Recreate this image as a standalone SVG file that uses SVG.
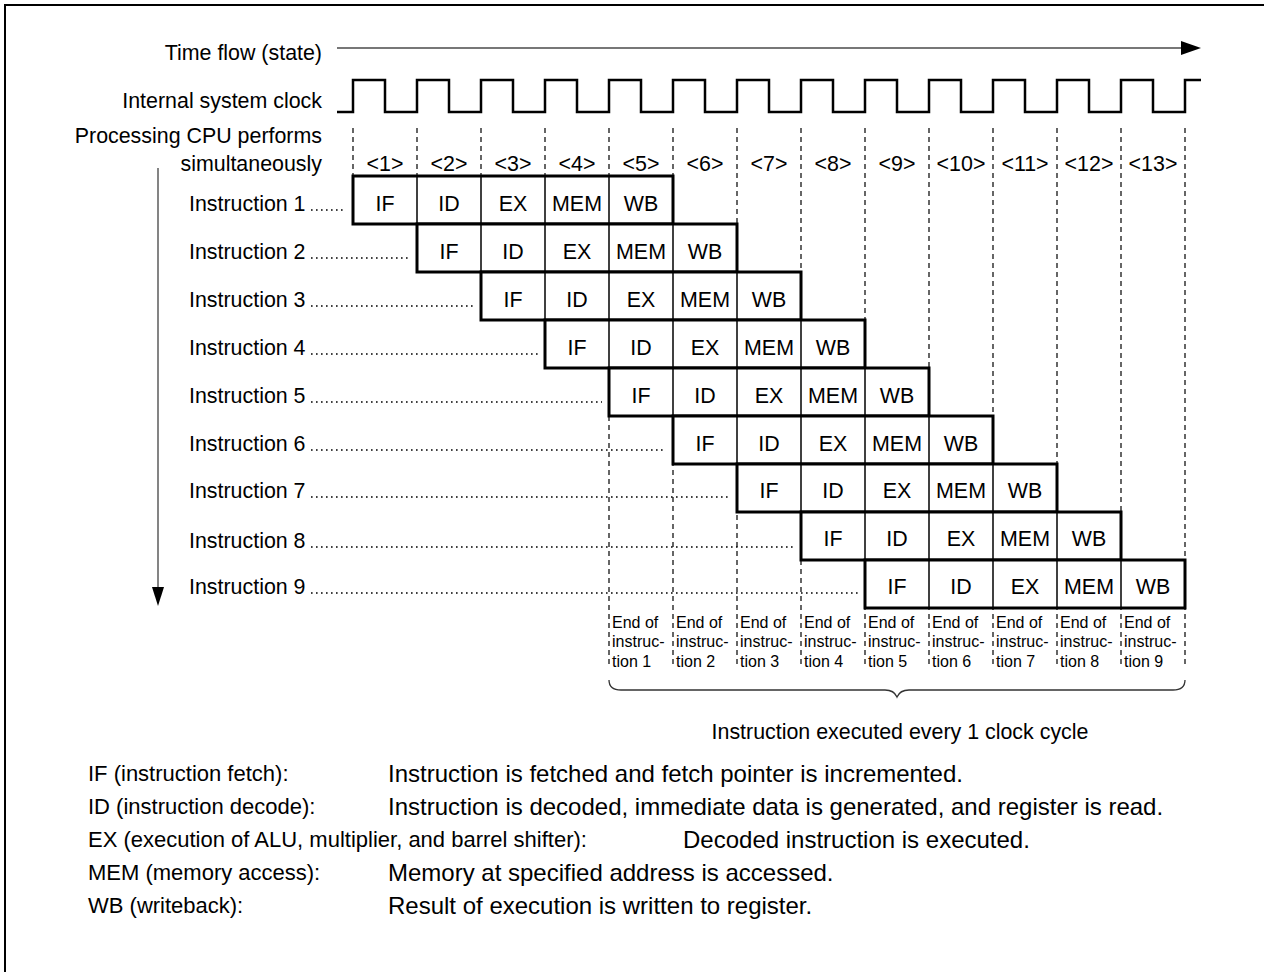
<svg xmlns="http://www.w3.org/2000/svg" width="1264" height="972" viewBox="0 0 1264 972">
<style>
text{font-family:"Liberation Sans",Arial,sans-serif;fill:#000}
.t{font-size:21.4px}
.c{font-size:21.4px;text-anchor:middle}
.r{font-size:21.4px;text-anchor:end}
.l{font-size:22px}
.d{font-size:24px}
.s{font-size:16px}
.box{fill:#fff;stroke:#000;stroke-width:3}
.div{stroke:#000;stroke-width:1.5}
.dash{stroke:#000;stroke-width:1.2;stroke-dasharray:5 4;fill:none}
.dot{stroke:#000;stroke-width:1.6;stroke-dasharray:1.6 3.4}
.clk{fill:none;stroke:#000;stroke-width:2.5}
.gray{stroke:#777;stroke-width:1.8;fill:none}
</style>
<rect width="1264" height="972" fill="#fff"/>
<path d="M5,972 V5 H1264" fill="none" stroke="#000" stroke-width="2"/>

<g id="header">
<text class="r" x="322" y="60">Time flow (state)</text>
<text class="r" x="322" y="108">Internal system clock</text>
<text class="r" x="322" y="143">Processing CPU performs</text>
<text class="r" x="322" y="171">simultaneously</text>
</g>

<g id="connectors">
<line class="gray" x1="337" y1="48" x2="1182" y2="48"/>
<polygon points="1181,41 1201,48 1181,55" fill="#000"/>
<line class="gray" x1="158" y1="168" x2="158" y2="590"/>
<polygon points="152,587 164,587 158,606" fill="#000"/>
</g>

<g id="clock">
<path class="clk" d="M337,112 H353 V80 H385 V112 H417 V80 H449 V112 H481 V80 H513 V112 H545 V80 H577 V112 H609 V80 H641 V112 H673 V80 H705 V112 H737 V80 H769 V112 H801 V80 H833 V112 H865 V80 H897 V112 H929 V80 H961 V112 H993 V80 H1025 V112 H1057 V80 H1089 V112 H1121 V80 H1153 V112 H1185 V80 H1201"/>
</g>

<g id="gridlines">
<line class="dash" x1="353" y1="128" x2="353" y2="176"/>
<line class="dash" x1="417" y1="128" x2="417" y2="176"/>
<line class="dash" x1="481" y1="128" x2="481" y2="176"/>
<line class="dash" x1="545" y1="128" x2="545" y2="176"/>
<line class="dash" x1="609" y1="128" x2="609" y2="668"/>
<line class="dash" x1="673" y1="128" x2="673" y2="668"/>
<line class="dash" x1="737" y1="128" x2="737" y2="668"/>
<line class="dash" x1="801" y1="128" x2="801" y2="668"/>
<line class="dash" x1="865" y1="128" x2="865" y2="668"/>
<line class="dash" x1="929" y1="128" x2="929" y2="668"/>
<line class="dash" x1="993" y1="128" x2="993" y2="668"/>
<line class="dash" x1="1057" y1="128" x2="1057" y2="668"/>
<line class="dash" x1="1121" y1="128" x2="1121" y2="668"/>
<line class="dash" x1="1185" y1="128" x2="1185" y2="668"/>
</g>

<g id="states">
<text class="c" x="385" y="171">&lt;1&gt;</text>
<text class="c" x="449" y="171">&lt;2&gt;</text>
<text class="c" x="513" y="171">&lt;3&gt;</text>
<text class="c" x="577" y="171">&lt;4&gt;</text>
<text class="c" x="641" y="171">&lt;5&gt;</text>
<text class="c" x="705" y="171">&lt;6&gt;</text>
<text class="c" x="769" y="171">&lt;7&gt;</text>
<text class="c" x="833" y="171">&lt;8&gt;</text>
<text class="c" x="897" y="171">&lt;9&gt;</text>
<text class="c" x="961" y="171">&lt;10&gt;</text>
<text class="c" x="1025" y="171">&lt;11&gt;</text>
<text class="c" x="1089" y="171">&lt;12&gt;</text>
<text class="c" x="1153" y="171">&lt;13&gt;</text>
</g>

<g id="instr1">
<text class="t" x="189" y="211">Instruction 1</text>
<line class="dot" x1="311" y1="210" x2="346" y2="210"/>
<rect class="box" x="353" y="176" width="320" height="48"/>
<line class="div" x1="417" y1="176" x2="417" y2="224"/><line class="div" x1="481" y1="176" x2="481" y2="224"/><line class="div" x1="545" y1="176" x2="545" y2="224"/><line class="div" x1="609" y1="176" x2="609" y2="224"/>
<text class="c" x="385" y="211">IF</text><text class="c" x="449" y="211">ID</text><text class="c" x="513" y="211">EX</text><text class="c" x="577" y="211">MEM</text><text class="c" x="641" y="211">WB</text>
</g>
<g id="instr2">
<text class="t" x="189" y="259">Instruction 2</text>
<line class="dot" x1="311" y1="258" x2="410" y2="258"/>
<rect class="box" x="417" y="224" width="320" height="48"/>
<line class="div" x1="481" y1="224" x2="481" y2="272"/><line class="div" x1="545" y1="224" x2="545" y2="272"/><line class="div" x1="609" y1="224" x2="609" y2="272"/><line class="div" x1="673" y1="224" x2="673" y2="272"/>
<text class="c" x="449" y="259">IF</text><text class="c" x="513" y="259">ID</text><text class="c" x="577" y="259">EX</text><text class="c" x="641" y="259">MEM</text><text class="c" x="705" y="259">WB</text>
</g>
<g id="instr3">
<text class="t" x="189" y="307">Instruction 3</text>
<line class="dot" x1="311" y1="306" x2="474" y2="306"/>
<rect class="box" x="481" y="272" width="320" height="48"/>
<line class="div" x1="545" y1="272" x2="545" y2="320"/><line class="div" x1="609" y1="272" x2="609" y2="320"/><line class="div" x1="673" y1="272" x2="673" y2="320"/><line class="div" x1="737" y1="272" x2="737" y2="320"/>
<text class="c" x="513" y="307">IF</text><text class="c" x="577" y="307">ID</text><text class="c" x="641" y="307">EX</text><text class="c" x="705" y="307">MEM</text><text class="c" x="769" y="307">WB</text>
</g>
<g id="instr4">
<text class="t" x="189" y="355">Instruction 4</text>
<line class="dot" x1="311" y1="354" x2="538" y2="354"/>
<rect class="box" x="545" y="320" width="320" height="48"/>
<line class="div" x1="609" y1="320" x2="609" y2="368"/><line class="div" x1="673" y1="320" x2="673" y2="368"/><line class="div" x1="737" y1="320" x2="737" y2="368"/><line class="div" x1="801" y1="320" x2="801" y2="368"/>
<text class="c" x="577" y="355">IF</text><text class="c" x="641" y="355">ID</text><text class="c" x="705" y="355">EX</text><text class="c" x="769" y="355">MEM</text><text class="c" x="833" y="355">WB</text>
</g>
<g id="instr5">
<text class="t" x="189" y="403">Instruction 5</text>
<line class="dot" x1="311" y1="402" x2="602" y2="402"/>
<rect class="box" x="609" y="368" width="320" height="48"/>
<line class="div" x1="673" y1="368" x2="673" y2="416"/><line class="div" x1="737" y1="368" x2="737" y2="416"/><line class="div" x1="801" y1="368" x2="801" y2="416"/><line class="div" x1="865" y1="368" x2="865" y2="416"/>
<text class="c" x="641" y="403">IF</text><text class="c" x="705" y="403">ID</text><text class="c" x="769" y="403">EX</text><text class="c" x="833" y="403">MEM</text><text class="c" x="897" y="403">WB</text>
</g>
<g id="instr6">
<text class="t" x="189" y="451">Instruction 6</text>
<line class="dot" x1="311" y1="450" x2="666" y2="450"/>
<rect class="box" x="673" y="416" width="320" height="48"/>
<line class="div" x1="737" y1="416" x2="737" y2="464"/><line class="div" x1="801" y1="416" x2="801" y2="464"/><line class="div" x1="865" y1="416" x2="865" y2="464"/><line class="div" x1="929" y1="416" x2="929" y2="464"/>
<text class="c" x="705" y="451">IF</text><text class="c" x="769" y="451">ID</text><text class="c" x="833" y="451">EX</text><text class="c" x="897" y="451">MEM</text><text class="c" x="961" y="451">WB</text>
</g>
<g id="instr7">
<text class="t" x="189" y="498">Instruction 7</text>
<line class="dot" x1="311" y1="497" x2="730" y2="497"/>
<rect class="box" x="737" y="464" width="320" height="48"/>
<line class="div" x1="801" y1="464" x2="801" y2="512"/><line class="div" x1="865" y1="464" x2="865" y2="512"/><line class="div" x1="929" y1="464" x2="929" y2="512"/><line class="div" x1="993" y1="464" x2="993" y2="512"/>
<text class="c" x="769" y="498">IF</text><text class="c" x="833" y="498">ID</text><text class="c" x="897" y="498">EX</text><text class="c" x="961" y="498">MEM</text><text class="c" x="1025" y="498">WB</text>
</g>
<g id="instr8">
<text class="t" x="189" y="548">Instruction 8</text>
<line class="dot" x1="311" y1="547" x2="794" y2="547"/>
<rect class="box" x="801" y="512" width="320" height="48"/>
<line class="div" x1="865" y1="512" x2="865" y2="560"/><line class="div" x1="929" y1="512" x2="929" y2="560"/><line class="div" x1="993" y1="512" x2="993" y2="560"/><line class="div" x1="1057" y1="512" x2="1057" y2="560"/>
<text class="c" x="833" y="546">IF</text><text class="c" x="897" y="546">ID</text><text class="c" x="961" y="546">EX</text><text class="c" x="1025" y="546">MEM</text><text class="c" x="1089" y="546">WB</text>
</g>
<g id="instr9">
<text class="t" x="189" y="594">Instruction 9</text>
<line class="dot" x1="311" y1="593" x2="858" y2="593"/>
<rect class="box" x="865" y="560" width="320" height="48"/>
<line class="div" x1="929" y1="560" x2="929" y2="608"/><line class="div" x1="993" y1="560" x2="993" y2="608"/><line class="div" x1="1057" y1="560" x2="1057" y2="608"/><line class="div" x1="1121" y1="560" x2="1121" y2="608"/>
<text class="c" x="897" y="594">IF</text><text class="c" x="961" y="594">ID</text><text class="c" x="1025" y="594">EX</text><text class="c" x="1089" y="594">MEM</text><text class="c" x="1153" y="594">WB</text>
</g>

<g id="ends">
<text class="s" x="612" y="628">End of</text><text class="s" x="612" y="647">instruc-</text><text class="s" x="612" y="667">tion 1</text>
<text class="s" x="676" y="628">End of</text><text class="s" x="676" y="647">instruc-</text><text class="s" x="676" y="667">tion 2</text>
<text class="s" x="740" y="628">End of</text><text class="s" x="740" y="647">instruc-</text><text class="s" x="740" y="667">tion 3</text>
<text class="s" x="804" y="628">End of</text><text class="s" x="804" y="647">instruc-</text><text class="s" x="804" y="667">tion 4</text>
<text class="s" x="868" y="628">End of</text><text class="s" x="868" y="647">instruc-</text><text class="s" x="868" y="667">tion 5</text>
<text class="s" x="932" y="628">End of</text><text class="s" x="932" y="647">instruc-</text><text class="s" x="932" y="667">tion 6</text>
<text class="s" x="996" y="628">End of</text><text class="s" x="996" y="647">instruc-</text><text class="s" x="996" y="667">tion 7</text>
<text class="s" x="1060" y="628">End of</text><text class="s" x="1060" y="647">instruc-</text><text class="s" x="1060" y="667">tion 8</text>
<text class="s" x="1124" y="628">End of</text><text class="s" x="1124" y="647">instruc-</text><text class="s" x="1124" y="667">tion 9</text>
</g>

<g id="brace">
<path d="M609,680 Q609,690 621,690 H885 Q894,690 897,697 Q900,690 909,690 H1173 Q1185,690 1185,680" fill="none" stroke="#333" stroke-width="1.3"/>
<text class="c" x="900" y="739">Instruction executed every 1 clock cycle</text>
</g>

<g id="legend">
<text class="l" x="88" y="781">IF (instruction fetch):</text>
<text class="d" x="388" y="782">Instruction is fetched and fetch pointer is incremented.</text>
<text class="l" x="88" y="814">ID (instruction decode):</text>
<text class="d" x="388" y="815">Instruction is decoded, immediate data is generated, and register is read.</text>
<text class="l" x="88" y="847">EX (execution of ALU, multiplier, and barrel shifter):</text>
<text class="d" x="683" y="848">Decoded instruction is executed.</text>
<text class="l" x="88" y="880">MEM (memory access):</text>
<text class="d" x="388" y="881">Memory at specified address is accessed.</text>
<text class="l" x="88" y="913">WB (writeback):</text>
<text class="d" x="388" y="914">Result of execution is written to register.</text>
</g>
</svg>
